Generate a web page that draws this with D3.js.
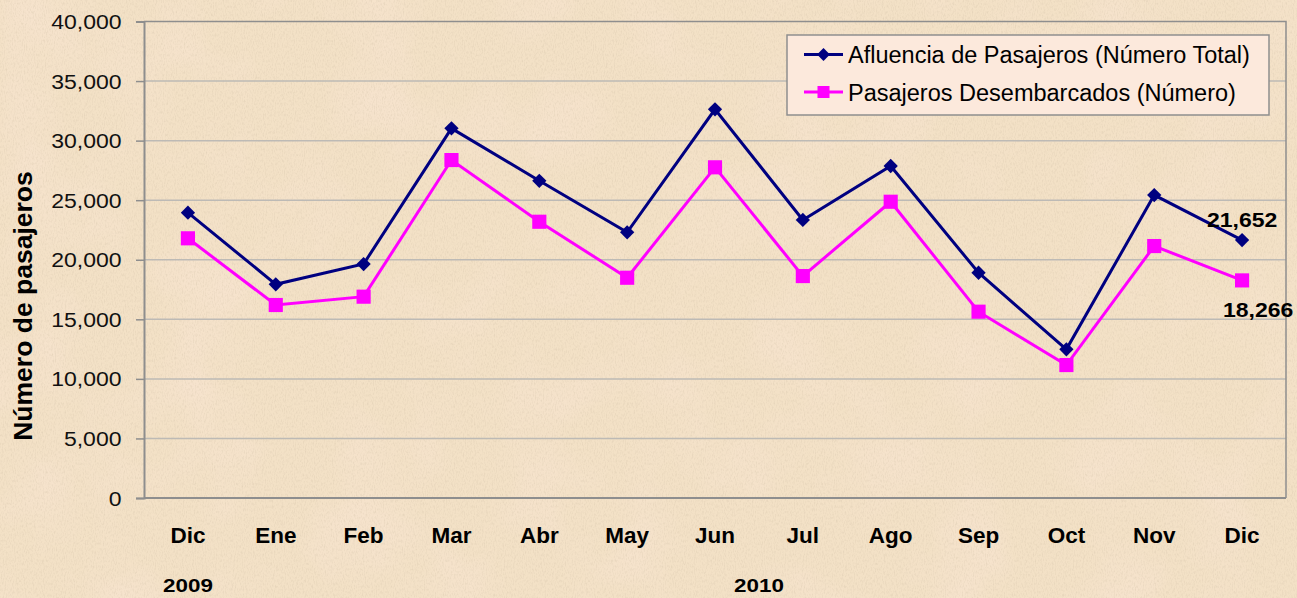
<!DOCTYPE html>
<html>
<head>
<meta charset="utf-8">
<script src="https://cdn.jsdelivr.net/npm/d3@7"></script>
<style>
  html, body { margin: 0; padding: 0; background: #f2dfc2; }
  svg { display: block; font-family: "Liberation Sans", Arial, sans-serif; }
</style>
</head>
<body>
<svg id="chart" width="1297" height="598"></svg>
<script>
// ---- data ----
const months = ["Dic", "Ene", "Feb", "Mar", "Abr", "May", "Jun", "Jul", "Ago", "Sep", "Oct", "Nov", "Dic"];
const afluencia = [23950, 17940, 19640, 31030, 26630, 22300, 32630, 23340, 27870, 18910, 12480, 25430, 21652];
const desembarcados = [21800, 16200, 16900, 28370, 23190, 18490, 27760, 18630, 24870, 15640, 11160, 21150, 18266];
const yTicks = [0, 5000, 10000, 15000, 20000, 25000, 30000, 35000, 40000];
const seriesNames = ["Afluencia de Pasajeros (Número Total)", "Pasajeros Desembarcados (Número)"];
const years = [{ label: "2009", at: 0 }, { label: "2010", at: 6.5 }];
const yTitle = "Número de pasajeros";

// ---- layout ----
const W = 1297, H = 598;
const plot = { left: 144, right: 1286, top: 21.5, bottom: 498 };
const numStretch = 1.18;
const fmt = d3.format(",");

const svg = d3.select("#chart");

// background texture
const defs = svg.append("defs");
const f = defs.append("filter").attr("id", "paper").attr("x", 0).attr("y", 0).attr("width", "100%").attr("height", "100%");
f.append("feTurbulence").attr("type", "fractalNoise").attr("baseFrequency", "0.9 0.35").attr("numOctaves", 2).attr("seed", 4).attr("result", "n1");
f.append("feColorMatrix").attr("in", "n1").attr("type", "matrix")
  .attr("values", "0 0 0 0 0.55  0 0 0 0 0.45  0 0 0 0 0.33  0 0 0 -1.6 0.9").attr("result", "specks");
f.append("feTurbulence").attr("type", "fractalNoise").attr("baseFrequency", "0.012").attr("numOctaves", 3).attr("seed", 9).attr("result", "n2");
f.append("feColorMatrix").attr("in", "n2").attr("type", "matrix")
  .attr("values", "0 0 0 0 0.98  0 0 0 0 0.80  0 0 0 0 0.72  0 0 0 -2.2 1.2").attr("result", "blotch");
f.append("feMerge").selectAll("feMergeNode").data(["blotch", "specks"]).join("feMergeNode").attr("in", d => d);

svg.append("rect").attr("width", W).attr("height", H).attr("fill", "#f3e1c6");
svg.append("rect").attr("width", W).attr("height", H).attr("fill", "#f3e1c6").attr("filter", "url(#paper)").attr("opacity", 0.35);

// scales
const x = d3.scalePoint().domain(d3.range(months.length)).range([plot.left, plot.right]).padding(0.5);
const y = d3.scaleLinear().domain([0, 40000]).range([plot.bottom, plot.top]);

// gridlines
svg.append("g").selectAll("line").data(yTicks.filter(d => d > 0 && d < 40000)).join("line")
  .attr("x1", plot.left).attr("x2", plot.right)
  .attr("y1", d => y(d)).attr("y2", d => y(d))
  .attr("stroke", "#bdbab5").attr("stroke-width", 1.5);

// plot border (top & right)
svg.append("path")
  .attr("d", `M${plot.left},${plot.top}H${plot.right}V${plot.bottom}`)
  .attr("fill", "none").attr("stroke", "#8e8e8e").attr("stroke-width", 1.5);

// y axis
const yAxis = svg.append("g").attr("transform", `translate(${plot.left},0)`)
  .call(d3.axisLeft(y).tickValues(yTicks).tickFormat(fmt).tickSize(8).tickPadding(0));
yAxis.select(".domain").attr("stroke", "#8e8e8e").attr("stroke-width", 2);
yAxis.selectAll(".tick line").attr("stroke", "#8e8e8e").attr("stroke-width", 1.5);
yAxis.selectAll(".tick text")
  .attr("font-size", 19.5).attr("fill", "#111").attr("font-family", "Liberation Sans, Arial, sans-serif")
  .attr("x", 0).attr("dy", "0.36em")
  .attr("transform", `translate(-22.5,0) scale(${numStretch},1)`);

// x axis line
svg.append("line").attr("x1", plot.left).attr("x2", plot.right).attr("y1", plot.bottom).attr("y2", plot.bottom)
  .attr("stroke", "#8e8e8e").attr("stroke-width", 2);

// x labels
svg.append("g").selectAll("text").data(months).join("text")
  .attr("x", (d, i) => x(i)).attr("y", 543)
  .attr("text-anchor", "middle").attr("font-weight", "bold").attr("font-size", 22.5).attr("fill", "#000")
  .text(d => d);

// years
svg.append("g").selectAll("text").data(years).join("text")
  .attr("transform", d => {
    const i0 = Math.floor(d.at), i1 = Math.ceil(d.at);
    const px = (x(i0) + x(i1)) / 2;
    return `translate(${px},592) scale(${numStretch},1)`;
  })
  .attr("text-anchor", "middle").attr("font-weight", "bold").attr("font-size", 19).attr("fill", "#000")
  .text(d => d.label);

// y title
svg.append("text")
  .attr("transform", "translate(32,306) rotate(-90)")
  .attr("text-anchor", "middle").attr("font-weight", "bold").attr("font-size", 26.5).attr("fill", "#000")
  .text(yTitle);

// lines
const line = d3.line().x((d, i) => x(i)).y(d => y(d));
const series = [
  { name: seriesNames[0], values: afluencia, color: "#000080", marker: "diamond" },
  { name: seriesNames[1], values: desembarcados, color: "#ff00ff", marker: "square" }
];
const diamond = d3.symbol().type(d3.symbolSquare).size(102)();
const square = d3.symbol().type(d3.symbolSquare).size(200)();

function drawMarker(g, s, cx, cy, scale) {
  const k = scale || 1;
  if (s.marker === "diamond") {
    g.append("path").attr("d", diamond).attr("fill", s.color)
      .attr("transform", `translate(${cx},${cy}) rotate(45) scale(${k})`);
  } else {
    g.append("path").attr("d", square).attr("fill", s.color)
      .attr("transform", `translate(${cx},${cy}) scale(${k})`);
  }
}

// draw desembarcados first, then afluencia on top
[series[1], series[0]].forEach(s => {
  const g = svg.append("g");
  g.append("path").datum(s.values).attr("d", line)
    .attr("fill", "none").attr("stroke", s.color).attr("stroke-width", 3).attr("stroke-linejoin", "miter");
  s.values.forEach((v, i) => drawMarker(g, s, x(i), y(v)));
});

// data labels for last point
const last = months.length - 1;
svg.append("text")
  .attr("transform", `translate(${x(last)},227) scale(${numStretch},1)`)
  .attr("text-anchor", "middle").attr("font-weight", "bold").attr("font-size", 19.5).attr("fill", "#000")
  .text(fmt(afluencia[last]));
svg.append("text")
  .attr("transform", `translate(${x(last) + 16},317) scale(${numStretch},1)`)
  .attr("text-anchor", "middle").attr("font-weight", "bold").attr("font-size", 19.5).attr("fill", "#000")
  .text(fmt(desembarcados[last]));

// legend
const lg = svg.append("g");
lg.append("rect").attr("x", 787).attr("y", 35).attr("width", 482).attr("height", 80)
  .attr("fill", "#fce9dc").attr("stroke", "#8e8e8e").attr("stroke-width", 1.5);
series.forEach((s, i) => {
  const cy = 54.5 + i * 37.5;
  lg.append("line").attr("x1", 804).attr("x2", 843).attr("y1", cy).attr("y2", cy)
    .attr("stroke", s.color).attr("stroke-width", 3);
  drawMarker(lg, s, 823.5, cy, s.marker === "square" ? 0.85 : 0.9);
  lg.append("text").attr("x", 848).attr("y", cy + 8.5)
    .attr("font-size", 23.5).attr("fill", "#000").text(s.name);
});
</script>
</body>
</html>
